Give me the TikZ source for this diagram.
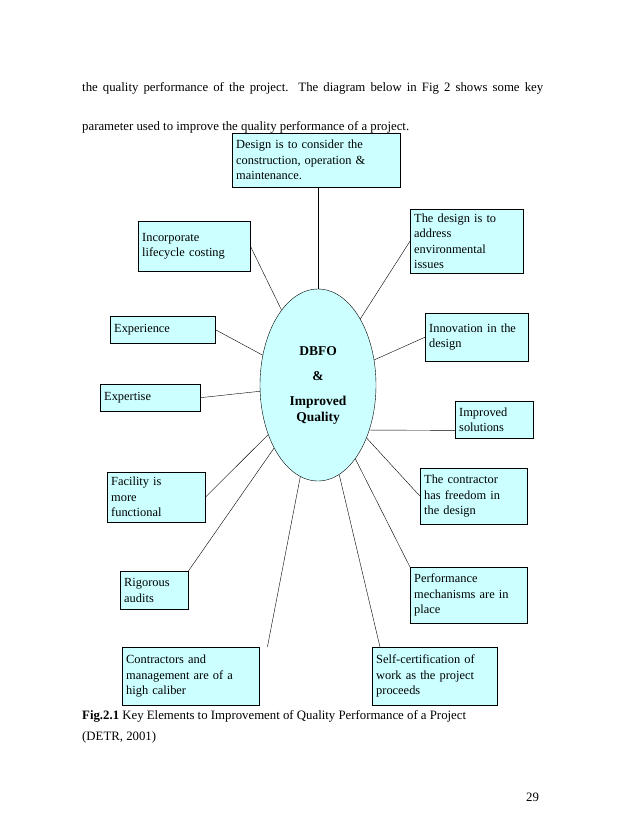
\documentclass[tikz,border=0pt]{standalone}
\usepackage{fontspec}
\setmainfont{Liberation Serif}
\usetikzlibrary{shapes.geometric}
\definecolor{boxcyan}{HTML}{CCFFFF}
\begin{document}
\begin{tikzpicture}[x=1pt,y=-1pt,
    every node/.style={font=\fontsize{12.4}{15.5}\selectfont},
    keybox/.style={draw,fill=boxcyan,anchor=north west,align=left,inner sep=4pt},
    page/.style={anchor=west,font=\fontsize{12.8}{15}\selectfont,inner sep=0pt}]
    \useasboundingbox[fill=white] (0,0) rectangle (638,826);
    % page text
    \node[page] (p1) at (82,88) {\makebox[461pt][s]{the quality performance of the project. The diagram below in Fig 2 shows some key}};
    \node[page] (p2) at (82,127) {parameter used to improve the quality performance of a project.};
    \node[page] (cap1) at (82,716) {\textbf{Fig.2.1} Key Elements to Improvement of Quality Performance of a Project};
    \node[page] (cap2) at (82,737) {(DETR, 2001)};
    \node[page] (num) at (526,797) {29};
    % centre
    \node[ellipse,minimum width=116pt,minimum height=192pt] (dbfo) at (318,385) {};
    % key elements
    \node[keybox,text width=160pt,minimum height=54pt] (design) at (232,133) {Design is to consider the\\construction, operation \&\\maintenance.};
    \node[keybox,text width=104pt,minimum height=50pt] (cost) at (138,221) {Incorporate\\lifecycle costing};
    \node[keybox,text width=105pt,minimum height=64pt] (env) at (410,209) {The design is to\\address\\environmental\\issues};
    \node[keybox,text width=97pt,minimum height=27pt] (exper) at (110,316) {Experience};
    \node[keybox,text width=95pt,minimum height=48pt] (innov) at (425,313) {Innovation in the\\design};
    \node[keybox,text width=92pt,minimum height=27pt] (exprt) at (100,384) {Expertise};
    \node[keybox,text width=70pt,minimum height=37pt] (solut) at (455,401) {Improved\\solutions};
    \node[keybox,text width=90pt,minimum height=50pt] (facil) at (107,472) {Facility is\\more\\functional};
    \node[keybox,text width=99pt,minimum height=56pt] (free) at (420,468) {The contractor\\has freedom in\\the design};
    \node[keybox,text width=60pt,minimum height=38pt] (audit) at (120,571) {Rigorous\\audits};
    \node[keybox,text width=109pt,minimum height=56pt] (perf) at (410,567) {Performance\\mechanisms are in\\place};
    \node[keybox,text width=129pt,minimum height=58pt] (manag) at (122,647) {Contractors and\\management are of a\\high caliber};
    \node[keybox,text width=117pt,minimum height=58pt] (cert) at (372,647) {Self-certification of\\work as the project\\proceeds};
    \coordinate (solin) at ([yshift=8pt]solut.south west);
    % connectors
    \draw (dbfo) -- (dbfo.north |- design.south);
    \draw (dbfo) -- (cost.east);
    \draw (dbfo) -- (env.west);
    \draw (dbfo) -- (exper.east);
    \draw (dbfo) -- (innov.west);
    \draw (dbfo) -- (exprt.east);
    \draw (dbfo.center -| dbfo.west) ++(100,45) -- (solin);
    \draw (dbfo) -- (facil.east);
    \draw (dbfo) -- (free.west);
    \draw (dbfo) -- (audit.north east);
    \draw (dbfo) -- (perf.north west);
    \draw (dbfo) -- ([xshift=8pt]manag.north east);
    \draw (dbfo) -- ([xshift=8pt]cert.north west);
    \draw[fill=boxcyan] (dbfo.center) ellipse (58pt and 96pt);
    \node[align=center,font=\fontsize{13.5}{16}\selectfont\bfseries] (lbl) at (dbfo) {DBFO\\[9pt]\&\\[9pt]Improved\\Quality};
\end{tikzpicture}
\end{document}
